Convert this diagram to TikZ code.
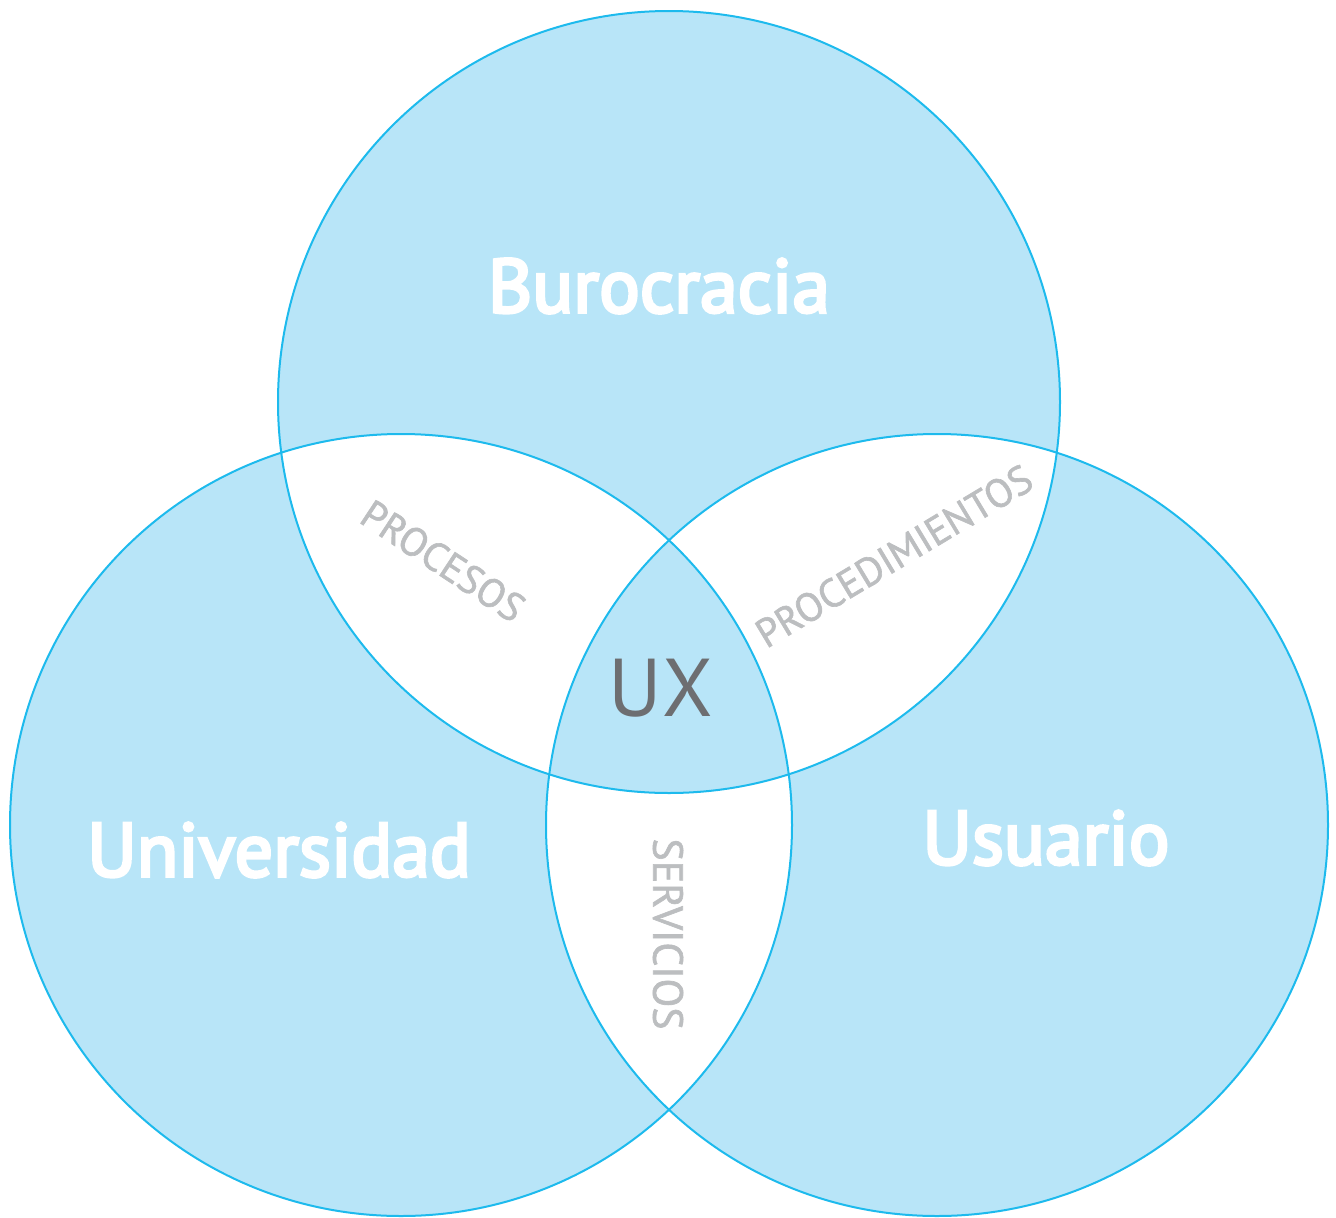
\documentclass[tikz,border=0pt]{standalone}
\usepackage{fontspec}
\setmainfont{PT Sans}
\newfontfamily\medfont[FakeBold=4]{PT Sans}
\newfontfamily\lblfont[FakeBold=1.5]{PT Sans}
\definecolor{vfill}{HTML}{B8E5F8}
\definecolor{vline}{HTML}{1DBAED}
\definecolor{uxgray}{HTML}{6D6E71}
\definecolor{lblgray}{HTML}{BCBEC0}
\begin{document}
\begin{tikzpicture}[x=1pt,y=-1pt,
  setname/.style={text=white,font=\medfont\fontsize{76}{76}\selectfont,inner sep=0pt},
  pairlbl/.style={text=lblgray,font=\lblfont\fontsize{40}{40}\selectfont,inner sep=0pt},
  circ/.style={draw=vline,line width=2pt}]
\useasboundingbox (0,0) rectangle (1336,1218);
\fill[vfill,even odd rule] (669,402) circle[radius=391] (401,825) circle[radius=391] (937,825) circle[radius=391];
\draw[circ] (669,402) circle[radius=391];
\draw[circ] (401,825) circle[radius=391];
\draw[circ] (937,825) circle[radius=391];
\node[setname] (bur) at (659,286) {Burocracia};
\node[setname] (uni) at (279,850) {Universidad};
\node[setname] (usu) at (1046,838) {Usuario};
\node[text=uxgray,font=\fontsize{82}{82}\selectfont,inner sep=0pt] (ux) at (661,688) {UX};
\node[pairlbl,rotate=-33.4] (proc) at (443,561) {PROCESOS};
\node[pairlbl,rotate=31] (proced) at (894,556) {PROCEDIMIENTOS};
\node[pairlbl,font=\lblfont\fontsize{42}{42}\selectfont,rotate=-90] (serv) at (668,934) {SERVICIOS};
\end{tikzpicture}
\end{document}
